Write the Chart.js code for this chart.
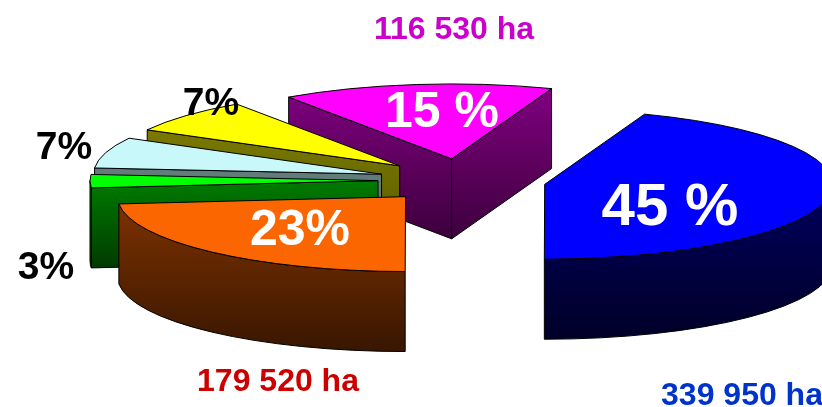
<!DOCTYPE html>
<html><head><meta charset="utf-8">
<style>html,body{margin:0;padding:0;background:#fff}canvas{display:block}</style>
<script src="https://cdn.jsdelivr.net/npm/chart.js@4"></script>
</head><body><canvas id="c" width="822" height="407"></canvas>
<script>
const categories = ['45 %','23%','3%','7%','7%','15 %'];
const hectares = [339950,179520,22000,51000,57000,116530];
const topColors = ['#0000ff','#fb6600','#00ff00','#c8f8fa','#ffff00','#ff00ff'];
const wallTop = ['#000078','#803300','#008000','#668080','#808000','#800080'];
const wallBottom = ['#000028','#381600','#003a00','#5a7070','#5a5a00','#3c003c'];
const paintOrder = [5,4,3,2,1,0];
const SQUASH = 0.26, DEPTH = 80, EXPLODE = 84, RADIUS = 288;

const textLabels = [
  {t:'45 %',x:670,y:225,s:60,c:'#fff'},
  {t:'15 %',x:442,y:127,s:50,c:'#fff'},
  {t:'23%', x:300,y:245,s:50,c:'#fff'},
  {t:'7%',  x:211,y:115,s:39,c:'#000'},
  {t:'7%',  x:64, y:159,s:39,c:'#000'},
  {t:'3%',  x:46, y:279,s:39,c:'#000'},
  {t:'116 530 ha',x:454,y:39, s:32,c:'#cc00cc'},
  {t:'179 520 ha',x:278,y:391,s:32,c:'#cc0000'},
  {t:'339 950 ha',x:742,y:405,s:32,c:'#0033cc'}
];

const pie3d = {
  id:'pie3d',
  beforeDatasetDraw(chart,args){
    const ctx = chart.ctx, arcs = args.meta.data;
    const cx = arcs[0].x, cy = arcs[0].y;
    paintOrder.forEach(i=>{
      const a = arcs[i], s = a.startAngle, e = a.endAngle, m = (s+e)/2, R = a.outerRadius;
      const px = cx+EXPLODE*Math.cos(m), py = cy+EXPLODE*Math.sin(m)*SQUASH;
      const ry = R*SQUASH;
      const yAt = t=>py+ry*Math.sin(t);
      const xAt = t=>px+R*Math.cos(t);
      const yMin = Math.min(py,yAt(s),yAt(e));
      const yLow = Math.max(py,yAt(s),yAt(e),(s<Math.PI/2&&e>Math.PI/2)?py+ry:py)+DEPTH;
      const g = ctx.createLinearGradient(0,yMin,0,yLow);
      g.addColorStop(0,wallTop[i]); g.addColorStop(1,wallBottom[i]);
      ctx.save();
      ctx.fillStyle = g; ctx.strokeStyle = '#000'; ctx.lineWidth = 1; ctx.lineJoin='round';
      const wall = t=>{
        ctx.beginPath(); ctx.moveTo(px,py); ctx.lineTo(xAt(t),yAt(t));
        ctx.lineTo(xAt(t),yAt(t)+DEPTH); ctx.lineTo(px,py+DEPTH); ctx.closePath();
        ctx.fill(); ctx.stroke();
      };
      // a radial wall shows only when its outer face turns toward the viewer
      if(Math.cos(s)<-0.01) wall(s);
      if(Math.cos(e)>0.01) wall(e);
      const lo = Math.max(s,0), hi = Math.min(e,Math.PI);
      if(hi>lo){
        ctx.beginPath();
        ctx.ellipse(px,py,R,ry,0,lo,hi);
        ctx.lineTo(xAt(hi),yAt(hi)+DEPTH);
        ctx.ellipse(px,py+DEPTH,R,ry,0,hi,lo,true);
        ctx.closePath(); ctx.fill(); ctx.stroke();
      }
      // top face: the library's own arc, seen at a slant
      ctx.save();
      ctx.translate(cx,cy); ctx.scale(1,SQUASH); ctx.translate(-cx,-cy);
      ctx.translate(EXPLODE*Math.cos(m),EXPLODE*Math.sin(m));
      a.draw(ctx);
      ctx.restore();
      ctx.beginPath(); ctx.moveTo(px,py);
      ctx.ellipse(px,py,R,ry,0,s,e);
      ctx.closePath(); ctx.stroke();
      ctx.restore();
    });
    return false;
  },
  afterDraw(chart){
    const ctx = chart.ctx;
    ctx.save(); ctx.textAlign='center'; ctx.textBaseline='alphabetic';
    textLabels.forEach(l=>{
      ctx.font='bold '+l.s+'px "Liberation Sans", Arial, sans-serif';
      ctx.fillStyle=l.c; ctx.fillText(l.t,l.x,l.y);
    });
    ctx.restore();
  }
};

new Chart(document.getElementById('c'),{
  type:'pie',
  data:{labels:categories,datasets:[{data:hectares,backgroundColor:topColors,borderWidth:0,clip:false,radius:RADIUS}]},
  options:{
    responsive:false,animation:false,rotation:20.3,
    layout:{padding:{left:102,right:0,top:0,bottom:46}},
    plugins:{legend:{display:false},tooltip:{enabled:false},title:{display:false}}
  },
  plugins:[pie3d]
});
</script></body></html>
